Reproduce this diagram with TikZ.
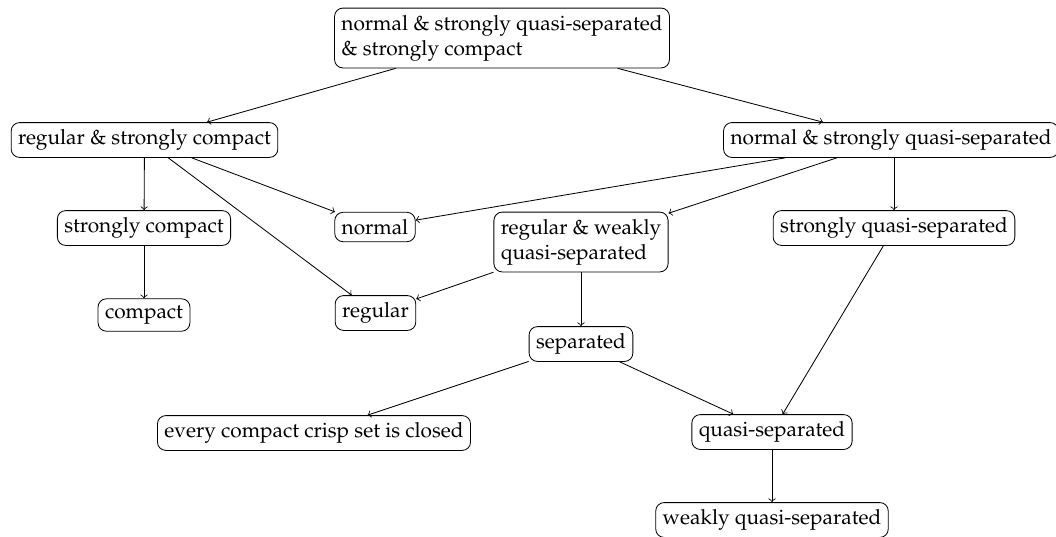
\documentclass[tikz,border=0pt]{standalone}
\usepackage[T1]{fontenc}
\usepackage{mathpazo}
\begin{document}
\begin{tikzpicture}[x=0.48pt, y=-0.48pt, ->,
  every node/.style = {shape=rectangle, rounded corners,
    draw, align=left}]
  \useasboundingbox (0,0) rectangle (1056,536);
  \node (nsqsc) at (502,38) {normal \& strongly quasi-separated\\\& strongly compact};
  \node (rsc) at (144.5,140) {regular \& strongly compact};
  \node (nsqs) at (891,140) {normal \& strongly quasi-separated};
  \node (sc) at (144,228) {strongly compact};
  \node (normal) at (375,227) {normal};
  \node (rwqs) at (581,242) {regular \& weakly\\quasi-separated};
  \node (sqs) at (894,228) {strongly quasi-separated};
  \node (compact) at (144,315) {compact};
  \node (regular) at (375.5,313) {regular};
  \node (sep) at (581,344) {separated};
  \node (closed) at (314,433) {every compact crisp set is closed};
  \node (qs) at (772,432) {quasi-separated};
  \node (wqs) at (772,520) {weakly quasi-separated};

  \draw (nsqsc) -- (rsc);
  \draw (nsqsc) -- (nsqs);
  \draw (rsc) -- (sc);
  \draw (rsc) -- (normal);
  \draw (rsc) -- (regular);
  \draw (sc) -- (compact);
  \draw (nsqs) -- (normal);
  \draw (nsqs) -- (rwqs);
  \draw (nsqs.south -| sqs) -- (sqs);
  \draw (rwqs) -- (sep);
  \draw (rwqs) -- (regular);
  \draw (sqs) -- (qs);
  \draw (sep) -- (closed);
  \draw (sep) -- (qs);
  \draw (qs) -- (wqs);
\end{tikzpicture}
\end{document}
